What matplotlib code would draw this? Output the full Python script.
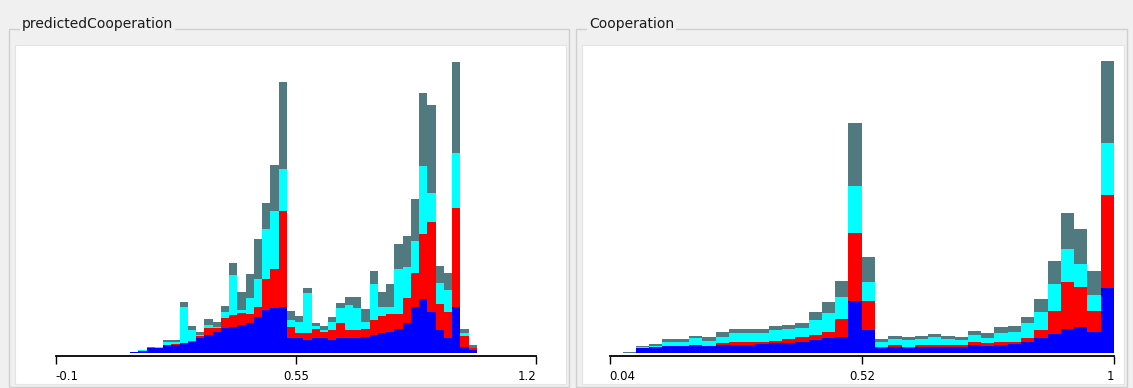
import numpy as np
import matplotlib.pyplot as plt
from matplotlib.patches import Rectangle

W, H = 1133, 388

# predictedCooperation: 42 bins, stacked counts per class
left_range = (0.1014, 1.0392)
left_ticks = [-0.1, 0.55, 1.2]
left_ticklabels = ['-0.1', '0.55', '1.2']
blue_l = [0.7, 2.5, 5, 5.3, 8, 8.5, 9.7, 11.3, 14.7, 18,
          21.3, 24.7, 26.3, 28, 29.7, 36.3, 43, 44.7, 46.3, 14.7,
          14.7, 13, 14.7, 14.7, 13, 14.7, 14.7, 15.3, 16.3, 18,
          19.7, 21.3, 23.7, 29.7, 46.3, 53.7, 41, 23, 14.7, 46.3,
          6.3, 3]
red_l = [0, 0, 0, 0, 0.3, 0.3, 0.3, 0.5, 2, 6.7,
         3.4, 10, 11.7, 11.7, 9.3, 10, 30.7, 39, 96, 11,
         5, 6.7, 9, 6, 10, 15, 8.3, 7.7, 7.4, 15,
         17.3, 17.7, 15.3, 25, 33.4, 65, 90, 26, 26.6, 98.4,
         10.7, 2]
cyan_l = [0, 0.2, 0.3, 0.3, 2.3, 2, 36.3, 11.2, 1.3, 3,
          1.5, 6.6, 40, 3.3, 15.7, 27.4, 50.3, 58.6, 41.7, 7.3,
          11.6, 40, 3.3, 2.3, 8.3, 15, 25, 21.7, 7.6, 36,
          9.3, 7.3, 44.7, 31, 32.6, 68.3, 29, 21.3, 21.7, 55,
          2.7, 0.5]
gray_l = [0.3, 0.3, 0.4, 0.5, 2.7, 2.5, 4.4, 4.3, 3.3, 6.3,
          4.5, 6, 12.3, 18.3, 24, 40, 26.3, 45.7, 87.3, 9.3,
          5.7, 5, 3.3, 4.3, 4.4, 5.6, 7.7, 11, 12.4, 13.3,
          14.4, 22.7, 25.3, 31.3, 41.4, 72.7, 87.7, 16.7, 17.3, 91.6,
          4, 2.5]

# Cooperation: 37 bins
right_range = (0.065, 1.0)
right_ticks = [0.04, 0.52, 1.0]
right_ticklabels = ['0.04', '0.52', '1']
blue_r = [0.5, 4.7, 5.7, 7, 7, 8, 7, 8, 8, 8,
          8.7, 9.7, 10.3, 11.3, 13, 14.7, 16.3, 52.3, 23, 4.7,
          6.3, 4.7, 6.3, 6.3, 6.3, 6.3, 8, 7, 8, 9,
          11.3, 14.7, 19, 23.7, 25.7, 21.3, 64.7]
red_r = [0, 0, 0, 0.3, 0.3, 0.5, 0.5, 1.7, 2.7, 2.7,
         2, 2.6, 3.4, 4.4, 5, 6.6, 17.7, 68, 29.3, 1.6,
         1.7, 1.6, 1.7, 1.7, 1.7, 1.7, 3.3, 2.7, 3.3, 2.3,
         4, 8.3, 23.3, 47, 40, 21, 93.3]
cyan_r = [0, 1.3, 1.8, 4, 4, 6.2, 4.8, 6.6, 9, 9,
          9, 10.7, 10, 9, 15, 18.4, 21.7, 46.7, 19, 5,
          6, 6.7, 6, 7.7, 6, 5, 6.7, 5.6, 9, 10,
          14.4, 17.7, 26.7, 33.3, 23.3, 15.7, 52.3]
gray_r = [0.8, 1.3, 1.5, 3, 3, 2.6, 3.4, 4.4, 4.6, 4.6,
          4.6, 4, 4.3, 5.6, 7.7, 11, 16.6, 62.7, 24.4, 2.7,
          3.3, 2.7, 3.3, 3.3, 3.3, 3.3, 4.3, 4.4, 5.4, 6,
          6, 13.3, 23.3, 36.3, 34.7, 24.3, 82]

colors = ['#0000ff', '#ff0000', '#00ffff', '#517980']


def px_axes(fig, x0, y0, x1, y1):
    return fig.add_axes([x0 / W, 1 - y1 / H, (x1 - x0) / W, (y1 - y0) / H])


def histo(ax, rng, layers, ticks, labels):
    n = len(layers[0])
    edges = np.linspace(rng[0], rng[1], n + 1)
    w = edges[1] - edges[0]
    bottom = np.zeros(n)
    for vals, c in zip(layers, colors):
        vals = np.array(vals, dtype=float)
        ax.bar(edges[:-1], vals, width=w, bottom=bottom, align='edge',
               color=c, linewidth=0, antialiased=False)
        bottom += vals
    ax.set_xlim(ticks[0], ticks[-1])
    ax.set_ylim(0, 308)
    ax.set_facecolor('none')
    for s in ['left', 'right', 'top']:
        ax.spines[s].set_visible(False)
    ax.spines['bottom'].set_position(('outward', 2.5))
    ax.spines['bottom'].set_linewidth(1.3)
    ax.set_yticks([])
    ax.set_xticks(ticks)
    ax.set_xticklabels(labels)
    ax.tick_params(axis='x', direction='out', length=6, width=1, pad=4,
                   labelsize=8.5, colors='black')
    tl = ax.get_xticklabels()
    tl[0].set_ha('left')
    tl[-1].set_ha('right')


fig = plt.figure(figsize=(W / 100, H / 100), dpi=100, facecolor='#f0f0f0')
bg = fig.add_axes([0, 0, 1, 1])
bg.set_xlim(0, W)
bg.set_ylim(H, 0)
bg.axis('off')

# panel frames
for x0, x1, title in [(9, 569, 'predictedCooperation'), (576, 1127, 'Cooperation')]:
    bg.add_patch(Rectangle((x0, 29), x1 - x0, 358, facecolor='#f0f0f0',
                           edgecolor='#cfcfcf', linewidth=1))
    bg.add_patch(Rectangle((x0 + 6, 45), x1 - x0 - 9, 339, facecolor='white',
                           edgecolor='#e4e4e4', linewidth=0.8))
    bg.text(x0 + 13, 24, title, fontsize=10, va='center', ha='left',
            color='#1a1a1a',
            bbox=dict(facecolor='#f0f0f0', edgecolor='none', pad=1.5))

ax1 = px_axes(fig, 55.5, 45, 536.4, 353)
histo(ax1, left_range, [blue_l, red_l, cyan_l, gray_l], left_ticks, left_ticklabels)

ax2 = px_axes(fig, 609.5, 45, 1114, 353)
histo(ax2, right_range, [blue_r, red_r, cyan_r, gray_r], right_ticks, right_ticklabels)

fig.savefig('out.png', dpi=100, facecolor=fig.get_facecolor())
